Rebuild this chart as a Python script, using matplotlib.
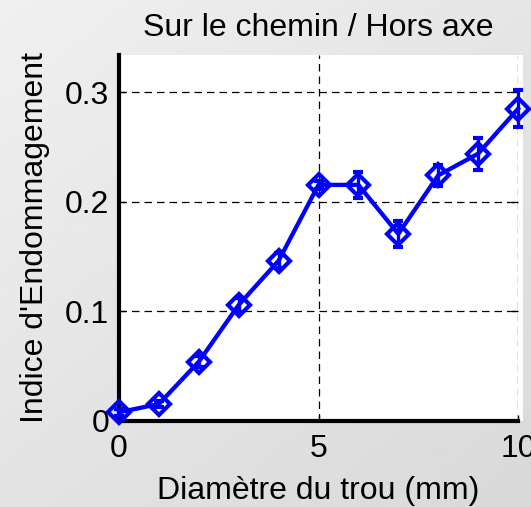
import numpy as np
import matplotlib
matplotlib.use("Agg")
import matplotlib.pyplot as plt
from matplotlib.patches import Rectangle

plt.rcParams["font.family"] = ["Liberation Sans", "DejaVu Sans"]

# Damage index vs. hole diameter (on the path / off axis)
diametre = [0, 1, 2, 3, 4, 5, 6, 7, 8, 9, 10]
indice = [0.0075, 0.0151, 0.0537, 0.1056, 0.146, 0.2153, 0.2153, 0.1705, 0.224, 0.2438, 0.2848]
erreur = [0.003, 0.003, 0.005, 0.006, 0.007, 0.004, 0.0118, 0.0115, 0.0096, 0.0148, 0.017]

W, H = 531, 507
fig = plt.figure(figsize=(W / 100, H / 100), dpi=100)

# grey slide backdrop, lighter towards the top left
bg = fig.add_axes([0, 0, 1, 1], zorder=-10)
yy, xx = np.mgrid[0:1:200j, 0:1:200j]
shade = 0.94 - 0.09 * (0.45 * xx + 0.55 * yy)
bg.imshow(shade, cmap="gray", vmin=0, vmax=1, extent=[0, 1, 0, 1],
          aspect="auto", origin="upper", interpolation="bilinear")
bg.axis("off")

# white figure panel behind the axes
fig.patches.append(Rectangle((117 / W, 1 - 421 / H), (523 - 117) / W, (421 - 55) / H,
                             transform=fig.transFigure, facecolor="white",
                             edgecolor="none", zorder=-5))

ax = fig.add_axes([119 / W, 1 - 420.5 / H, (518 - 119) / W, (420.5 - 55) / H])
ax.set_facecolor("none")

ax.errorbar(diametre, indice, yerr=erreur, color=(0, 0, 1), lw=3.1,
            marker="D", ms=11, mfc="none", mew=3,
            capsize=3.8, capthick=2.4, elinewidth=2.4,
            clip_on=False, zorder=3)

ax.set_xlim(0, 10)
ax.set_ylim(0, 0.334)
ax.set_xticks([0, 5, 10])
ax.set_yticks([0, 0.1, 0.2, 0.3])
ax.set_yticklabels(["0", "0.1", "0.2", "0.3"])

ax.grid(True, color="k", lw=0.9, linestyle=(0, (6, 4)))
ax.set_axisbelow(True)

for side in ["top", "right"]:
    ax.spines[side].set_visible(False)
for side in ["left", "bottom"]:
    ax.spines[side].set_linewidth(3)

ax.tick_params(direction="in", length=4, width=1, labelsize=23, right=True)
ax.tick_params(axis="x", pad=10)
ax.tick_params(axis="y", pad=7)

ax.set_title("Sur le chemin / Hors axe", fontsize=23, pad=14)
ax.set_xlabel("Diamètre du trou (mm)", fontsize=23, labelpad=8)
ax.set_ylabel("Indice d'Endommagement", fontsize=23, labelpad=11)

fig.savefig("out.png", dpi=100)
